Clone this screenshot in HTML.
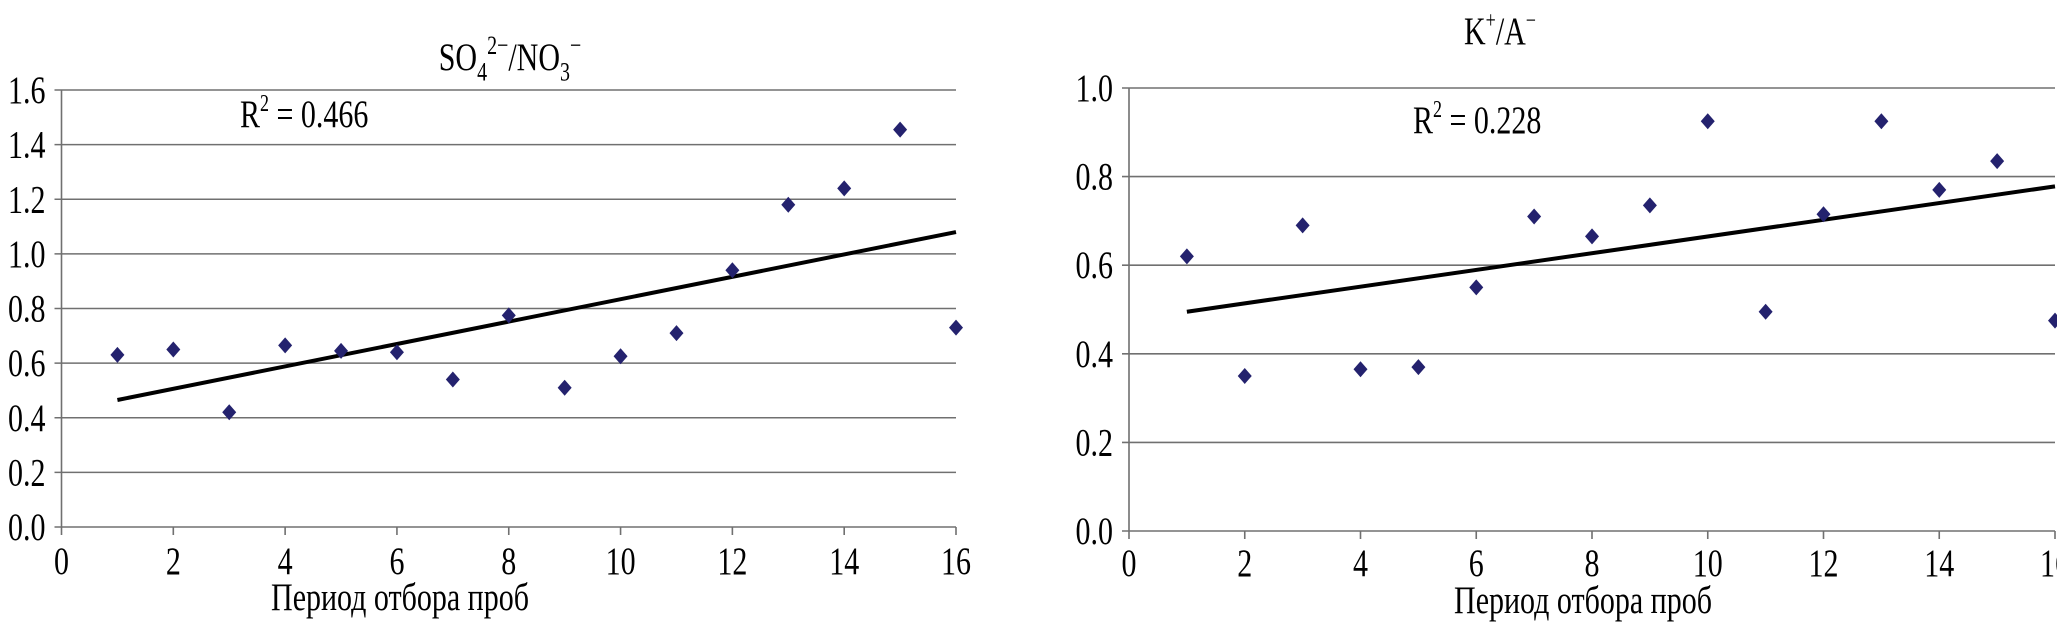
<!DOCTYPE html>
<html><head><meta charset="utf-8"><style>
html,body{margin:0;padding:0;background:#fff;}
svg{display:block;font-family:"Liberation Serif",serif;}
</style></head><body>
<svg id="c" width="2057" height="640" viewBox="0 0 2057 640" xmlns="http://www.w3.org/2000/svg">
<g id="left">
<text transform="translate(510,70) scale(1,1.32)" text-anchor="middle" font-size="30">SO<tspan font-size="20" dy="8">4</tspan><tspan font-size="20" dy="-20">2−</tspan><tspan dy="12">/NO</tspan><tspan font-size="20" dy="8">3</tspan><tspan font-size="20" dy="-20">−</tspan></text>
<text transform="translate(240,127) scale(1,1.32)" font-size="30">R<tspan font-size="18" dy="-12">2</tspan><tspan dy="12"> = 0.466</tspan></text>
<text transform="translate(400,610) scale(1,1.32)" text-anchor="middle" font-size="30">Период отбора проб</text>
</g>
<g id="right">
<text transform="translate(1500,44) scale(1,1.32)" text-anchor="middle" font-size="30">K<tspan font-size="18" dy="-12">+</tspan><tspan dy="12">/A</tspan><tspan font-size="18" dy="-12">−</tspan></text>
<text transform="translate(1413,133) scale(1,1.32)" font-size="30">R<tspan font-size="18" dy="-12">2</tspan><tspan dy="12"> = 0.228</tspan></text>
<text transform="translate(1583,613) scale(1,1.32)" text-anchor="middle" font-size="30">Период отбора проб</text>
</g>
</svg>
<script>
const periods=[1,2,3,4,5,6,7,8,9,10,11,12,13,14,15,16];
const leftValues=[0.63,0.65,0.42,0.665,0.645,0.64,0.54,0.775,0.51,0.625,0.71,0.94,1.18,1.24,1.455,0.73];
const leftTrend=[0.465,1.08];
const leftYTicks=["0.0","0.2","0.4","0.6","0.8","1.0","1.2","1.4","1.6"];
const rightValues=[0.62,0.35,0.69,0.365,0.37,0.55,0.71,0.665,0.735,0.925,0.495,0.715,0.925,0.77,0.835,0.475];
const rightTrend=[0.495,0.778];
const rightYTicks=["0.0","0.2","0.4","0.6","0.8","1.0"];
const xTicks=["0","2","4","6","8","10","12","14","16"];
const NS="http://www.w3.org/2000/svg";
function mk(parent,tag,attrs){const e=document.createElementNS(NS,tag);for(const k in attrs)e.setAttribute(k,attrs[k]);parent.appendChild(e);return e;}
function draw(g,cfg,vals,trend,yTicks,prefix){
  const xs=v=>cfg.x0+(v-0)/16*(cfg.x1-cfg.x0);
  const ys=v=>cfg.y0-(v/cfg.ymax)*(cfg.y0-cfg.y1);
  yTicks.forEach(t=>{const v=parseFloat(t);
    const l=mk(g,'line',{x1:xs(0)-7,x2:cfg.x1,y1:ys(v),y2:ys(v),stroke:'#707070','stroke-width':1.6});
    
    
    const tx=mk(g,'text',{transform:`translate(${xs(0)-16},${ys(v)+13}) scale(1,1.32)`,'text-anchor':'end','font-size':30});
    tx.textContent=t;
    
    
  });
  const ax=mk(g,'line',{x1:xs(0),x2:xs(0),y1:ys(parseFloat(yTicks[yTicks.length-1])),y2:ys(0),stroke:'#707070','stroke-width':1.6});
  
  
  xTicks.forEach(t=>{const v=parseFloat(t);
    const l=mk(g,'line',{x1:xs(v),x2:xs(v),y1:ys(0),y2:ys(0)+8,stroke:'#707070','stroke-width':1.6});
    
    
    const tx=mk(g,'text',{transform:`translate(${xs(v)},${cfg.xlabY}) scale(1,1.32)`,'text-anchor':'middle','font-size':30});
    tx.textContent=t;
    
    
  });
  const tl=mk(g,'line',{x1:xs(periods[0]),y1:ys(trend[0]),x2:xs(periods[periods.length-1]),y2:ys(trend[1]),stroke:'#000','stroke-width':4});
  
  
  vals.forEach((v,i)=>{const cx=xs(periods[i]),cy=ys(v);
    const p=mk(g,'polygon',{points:`${cx},${cy-8} ${cx+7},${cy} ${cx},${cy+8} ${cx-7},${cy}`,fill:'#24226e'});
    
    
  });
}
draw(document.getElementById('left'),{x0:61.5,x1:956,y0:527,y1:90,ymax:1.6,xlabY:574},leftValues,leftTrend,leftYTicks,'left');
draw(document.getElementById('right'),{x0:1129,x1:2055,y0:531,y1:88,ymax:1.0,xlabY:576},rightValues,rightTrend,rightYTicks,'right');
</script>
</body></html>
